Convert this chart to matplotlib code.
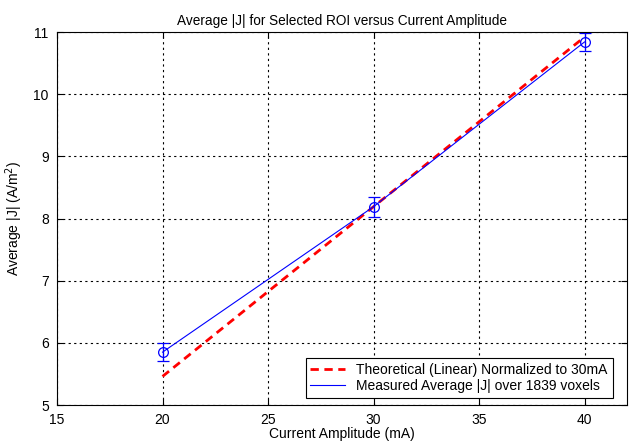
import numpy as np
import matplotlib
matplotlib.use("Agg")
import matplotlib.pyplot as plt

# Data
current_ma = [20, 30, 40]
measured_j = [5.85, 8.19, 10.84]
measured_err = [0.14, 0.16, 0.15]
theory_j = [5.46, 8.19, 10.92]

plt.rcParams['font.family'] = ['Liberation Sans', 'DejaVu Sans']
plt.rcParams['font.size'] = 10

fig = plt.figure(figsize=(6.35, 4.42), dpi=100)
ax = fig.add_axes([0.0898, 0.0837, 0.8972, 0.8439])

ax.plot(current_ma, theory_j, '--', color='red', lw=2, dashes=(3, 2),
        label='Theoretical (Linear) Normalized to 30mA')
ax.plot(current_ma, measured_j, '-', color='blue', lw=0.8,
        label='Measured Average |J| over 1839 voxels')
ax.errorbar(current_ma, measured_j, yerr=measured_err, fmt='o', mfc='none',
            mec='blue', ecolor='blue', ms=7, mew=0.9, elinewidth=0.9,
            capsize=4, capthick=0.9)

ax.set_xlim(15, 42)
ax.set_ylim(5, 11)
ax.set_xticks([15, 20, 25, 30, 35, 40])
ax.set_yticks([5, 6, 7, 8, 9, 10, 11])
ax.grid(True, color='black', linestyle=(0, (2, 3)), linewidth=0.8)
ax.tick_params(direction='in', top=True, right=True, length=4, labelsize=10, pad=6)
for s in ax.spines.values():
    s.set_linewidth(0.8)

ax.set_title('Average |J| for Selected ROI versus Current Amplitude', fontsize=9.8, pad=5)
ax.set_xlabel('Current Amplitude (mA)', fontsize=10, labelpad=0)
ax.set_ylabel('Average |J| (A/m$^2$)', fontsize=10, labelpad=6)

leg = ax.legend(loc='lower right', fancybox=False, edgecolor='black',
                framealpha=1, fontsize=10, handlelength=2.5,
                borderpad=0.35, labelspacing=0.15, borderaxespad=0,
                bbox_to_anchor=(0.975, 0.02))
leg.get_frame().set_linewidth(0.8)

fig.savefig('out.png', dpi=100)
